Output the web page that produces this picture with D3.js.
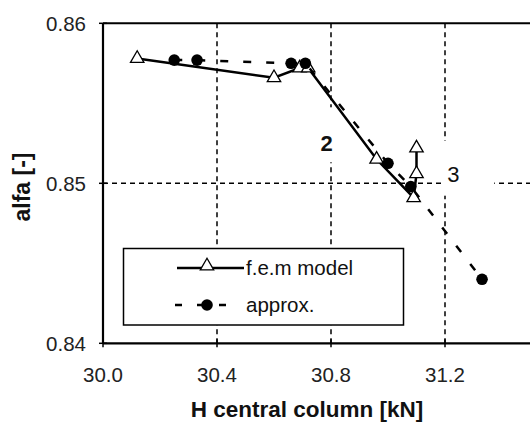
<!DOCTYPE html>
<html>
<head>
<meta charset="utf-8">
<script src="https://cdn.jsdelivr.net/npm/d3@7"></script>
<style>
  body { margin: 0; background: #fff; }
  svg { display: block; }
  text { font-family: Arial, "Liberation Sans", sans-serif; }
</style>
</head>
<body>
<div id="chart"></div>
<script>
// values
const femH = [30.12, 30.60, 30.69, 30.72, 30.96, 31.09, 31.10, 31.10]
const femAlfa = [0.8578, 0.8566, 0.8572, 0.8572, 0.8515, 0.8491, 0.8506, 0.8522]

const approxH = [30.25, 30.33, 30.66, 30.71, 31.00, 31.08, 31.33]
const approxAlfa = [0.8577, 0.8577, 0.8575, 0.8575, 0.85125, 0.8498, 0.8440]

const xTicks = [30.0, 30.4, 30.8, 31.2]
const yTicks = [0.84, 0.85, 0.86]
const xGrid = [30.4, 30.8, 31.2]
const yGrid = [0.85]

const noteText = ["2", "3"]
const noteH = [30.785, 31.229]
const noteAlfa = [0.8525, 0.8506]

const width = 530
const height = 423
const margin = { top: 23.3, right: 0, bottom: 79.7, left: 103 }

const svg = d3.select("#chart")
  .append("svg")
  .attr("width", width)
  .attr("height", height)

// 0.4 kN per ~114 px; the plot runs off the right edge of the picture
const xScale = d3.scaleLinear()
  .domain([30.0, 31.5])
  .range([margin.left, margin.left + 285 * 1.5])

const yScale = d3.scaleLinear()
  .domain([0.84, 0.86])
  .range([height - margin.bottom, margin.top])

const x0 = xScale(30.0)
const y0 = yScale(0.84)

// dashed grid
svg.append("g")
  .selectAll("line")
  .data(xGrid)
  .enter()
  .append("line")
  .attr("x1", d => xScale(d))
  .attr("x2", d => xScale(d))
  .attr("y1", yScale(0.86))
  .attr("y2", y0)
  .attr("stroke", "#000")
  .attr("stroke-width", 1.5)
  .attr("stroke-dasharray", "5,4")

svg.append("g")
  .selectAll("line")
  .data(yGrid)
  .enter()
  .append("line")
  .attr("x1", x0)
  .attr("x2", width)
  .attr("y1", d => yScale(d))
  .attr("y2", d => yScale(d))
  .attr("stroke", "#000")
  .attr("stroke-width", 1.5)
  .attr("stroke-dasharray", "5,4")

// white boxes behind the "2" and "3" notes (they hide the grid)
const noteG = svg.append("g")
noteText.forEach((t, i) => {
  const cx = xScale(noteH[i])
  const cy = yScale(noteAlfa[i])
  const first = i === 0
  noteG.append("rect")
    .attr("x", first ? cx - 14 : cx - 12)
    .attr("y", first ? cy - 36 : cy - 33)
    .attr("width", first ? 30 : 53)
    .attr("height", 55)
    .attr("fill", "#fff")
  noteG.append("text")
    .attr("x", cx)
    .attr("y", cy)
    .attr("dy", "0.36em")
    .attr("text-anchor", "middle")
    .attr("font-size", "22px")
    .attr("font-weight", first ? "bold" : "normal")
    .attr("fill", "#111")
    .text(t)
})

// f.e.m model - solid with open triangles
const fem = femH.map((h, i) => [h, femAlfa[i]])
const approx = approxH.map((h, i) => [h, approxAlfa[i]])

const line = d3.line()
  .x(d => xScale(d[0]))
  .y(d => yScale(d[1]))

svg.append("path")
  .datum(fem)
  .attr("d", line)
  .attr("fill", "none")
  .attr("stroke", "#000")
  .attr("stroke-width", 2.5)

const tri = d3.symbol(d3.symbolTriangle, 78)

svg.append("g")
  .selectAll("path")
  .data(fem)
  .enter()
  .append("path")
  .attr("d", tri)
  .attr("transform", d => `translate(${xScale(d[0])},${yScale(d[1])})`)
  .attr("fill", "#fff")
  .attr("stroke", "#000")
  .attr("stroke-width", 1.3)

// approx - dashed with filled dots
svg.append("path")
  .datum(approx)
  .attr("d", line)
  .attr("fill", "none")
  .attr("stroke", "#000")
  .attr("stroke-width", 2.5)
  .attr("stroke-dasharray", "8,15")

svg.append("g")
  .selectAll("circle")
  .data(approx)
  .enter()
  .append("circle")
  .attr("cx", d => xScale(d[0]))
  .attr("cy", d => yScale(d[1]))
  .attr("r", 5.8)
  .attr("fill", "#000")

// legend
const lg = svg.append("g")
lg.append("rect")
  .attr("x", 123.5)
  .attr("y", 248.5)
  .attr("width", 280)
  .attr("height", 76.5)
  .attr("fill", "#fff")
  .attr("stroke", "#000")
  .attr("stroke-width", 1.5)

lg.append("line")
  .attr("x1", 177).attr("x2", 244)
  .attr("y1", 268).attr("y2", 268)
  .attr("stroke", "#000")
  .attr("stroke-width", 2.5)
lg.append("path")
  .attr("d", tri)
  .attr("transform", "translate(207,266)")
  .attr("fill", "#fff")
  .attr("stroke", "#000")
  .attr("stroke-width", 1.3)
lg.append("text")
  .attr("x", 246)
  .attr("y", 268)
  .attr("dy", "0.36em")
  .attr("font-size", "20.5px")
  .attr("fill", "#111")
  .text("f.e.m model")

lg.append("line")
  .attr("x1", 175).attr("x2", 228)
  .attr("y1", 305).attr("y2", 305)
  .attr("stroke", "#000")
  .attr("stroke-width", 2.5)
  .attr("stroke-dasharray", "7,15")
lg.append("circle")
  .attr("cx", 207)
  .attr("cy", 305)
  .attr("r", 5.8)
  .attr("fill", "#000")
lg.append("text")
  .attr("x", 246)
  .attr("y", 305)
  .attr("dy", "0.36em")
  .attr("font-size", "20.5px")
  .attr("fill", "#111")
  .text("approx.")

// axes frame
svg.append("line")
  .attr("x1", x0).attr("x2", x0)
  .attr("y1", yScale(0.86)).attr("y2", y0)
  .attr("stroke", "#000").attr("stroke-width", 2.2)
svg.append("line")
  .attr("x1", x0).attr("x2", width)
  .attr("y1", y0).attr("y2", y0)
  .attr("stroke", "#000").attr("stroke-width", 2.2)
svg.append("line")
  .attr("x1", x0).attr("x2", width)
  .attr("y1", yScale(0.86)).attr("y2", yScale(0.86))
  .attr("stroke", "#000").attr("stroke-width", 2)

// ticks crossing the axes
svg.append("g")
  .selectAll("line")
  .data(yTicks)
  .enter()
  .append("line")
  .attr("x1", x0 - 4).attr("x2", x0 + 4)
  .attr("y1", d => yScale(d)).attr("y2", d => yScale(d))
  .attr("stroke", "#000").attr("stroke-width", 1.5)

svg.append("g")
  .selectAll("line")
  .data(xTicks)
  .enter()
  .append("line")
  .attr("x1", d => xScale(d)).attr("x2", d => xScale(d))
  .attr("y1", y0 - 4).attr("y2", y0 + 4)
  .attr("stroke", "#000").attr("stroke-width", 1.5)

// tick labels
svg.append("g")
  .selectAll("text")
  .data(yTicks)
  .enter()
  .append("text")
  .attr("x", x0 - 17)
  .attr("y", d => yScale(d))
  .attr("dy", "0.36em")
  .attr("text-anchor", "end")
  .attr("font-size", "20.5px")
  .attr("fill", "#222")
  .text(d => d3.format(".2f")(d))

svg.append("g")
  .selectAll("text")
  .data(xTicks)
  .enter()
  .append("text")
  .attr("x", d => xScale(d))
  .attr("y", 382)
  .attr("text-anchor", "middle")
  .attr("font-size", "20.5px")
  .attr("fill", "#222")
  .text(d => d3.format(".1f")(d))

// axis titles
svg.append("text")
  .attr("x", 307)
  .attr("y", 417)
  .attr("text-anchor", "middle")
  .attr("font-size", "22.5px")
  .attr("font-weight", "bold")
  .attr("fill", "#111")
  .text("H central column [kN]")

svg.append("text")
  .attr("transform", "rotate(-90)")
  .attr("x", -187)
  .attr("y", 30)
  .attr("text-anchor", "middle")
  .attr("font-size", "23px")
  .attr("font-weight", "bold")
  .attr("fill", "#111")
  .text("alfa [-]")
</script>
</body>
</html>
